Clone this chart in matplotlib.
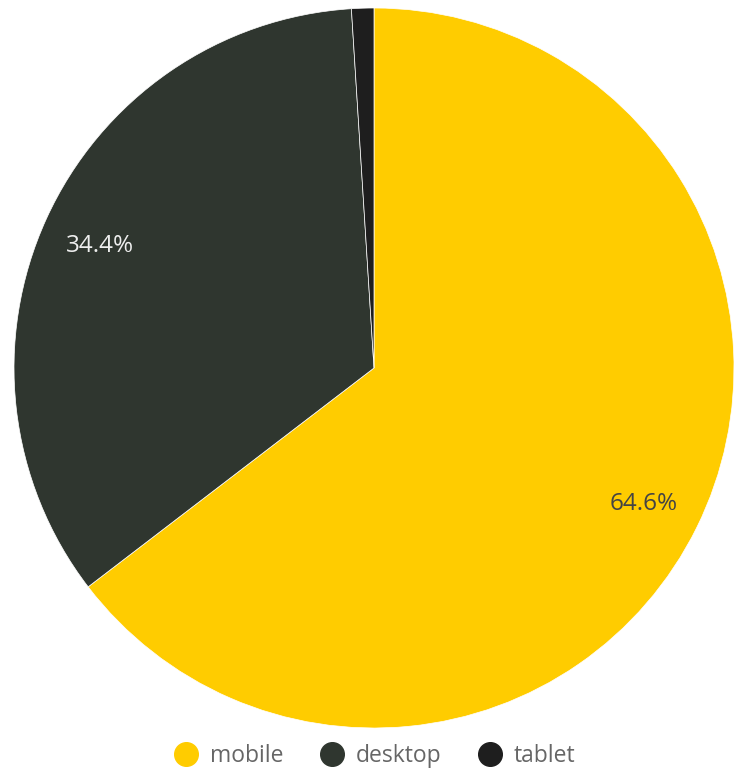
import matplotlib
matplotlib.use('Agg')
import matplotlib.pyplot as plt
from matplotlib.lines import Line2D

plt.rcParams['font.family'] = ['Open Sans', 'DejaVu Sans']

LABELS = ['mobile', 'desktop', 'tablet']
VALUES = [64.6, 34.4, 1.0]
COLORS = ['#FFCC00', '#2F362F', '#1E1E1E']
PCT_COLORS = ['#444444', '#EEEEEE', '#EEEEEE']

W, H = 745, 770
fig = plt.figure(figsize=(W / 100, H / 100), dpi=100)
fig.patch.set_facecolor('white')

# pie centre ~ (374, 368) px, radius ~360 px
cx, cy, r = 374, 368, 360
ax = fig.add_axes([(cx - r) / W, (H - cy - r) / H, 2 * r / W, 2 * r / H])

wedges, texts, autotexts = ax.pie(
    VALUES, colors=COLORS, startangle=90, counterclock=False,
    radius=1.0, pctdistance=0.835,
    autopct=lambda p: f'{p:.1f}%' if p > 3 else '',
    wedgeprops=dict(linewidth=0.5, edgecolor='white'),
    textprops=dict(fontsize=17.5))
for t, c in zip(autotexts, PCT_COLORS):
    t.set_color(c)
    x, y = t.get_position()
    t.set_position((x, y - 0.008))
ax.set_xlim(-1, 1)
ax.set_ylim(-1, 1)
ax.set_aspect('equal')
ax.axis('off')

handles = [Line2D([], [], marker='o', linestyle='none', markersize=17,
                  markerfacecolor=c, markeredgecolor=c) for c in COLORS]
fig.legend(handles, LABELS, loc='center', bbox_to_anchor=(cx / W, 14 / H),
           ncol=3, frameon=False, fontsize=16.5, labelcolor='#666666',
           handletextpad=0.45, columnspacing=1.5, handlelength=1.2,
           borderpad=0.1)

plt.savefig('out.png', dpi=100, facecolor='white')
plt.close()
